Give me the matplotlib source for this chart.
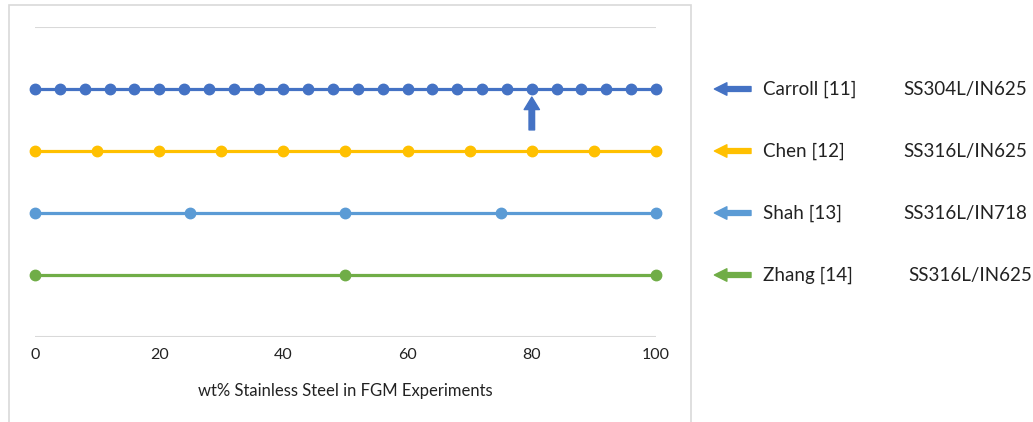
import matplotlib.pyplot as plt
from matplotlib.patches import Rectangle

# series data: wt% stainless steel compositions per study
carroll_x = list(range(0, 101, 4))
chen_x = [0, 10, 20, 30, 40, 50, 60, 70, 80, 90, 100]
shah_x = [0, 25, 50, 75, 100]
zhang_x = [0, 50, 100]

names = ['Carroll [11]', 'Chen [12]', 'Shah [13]', 'Zhang [14]']
alloys = ['SS304L/IN625', 'SS316L/IN625', 'SS316L/IN718', 'SS316L/IN625']
levels = [4, 3, 2, 1]
colors = ['#4472C4', '#FFC000', '#5B9BD5', '#70AD47']
xticks = [0, 20, 40, 60, 80, 100]
marked_x = 80

plt.rcParams['font.family'] = ['Lato', 'DejaVu Sans']

W, H = 1033, 422
fig = plt.figure(figsize=(W / 100, H / 100), dpi=100)
ax = fig.add_axes([35 / W, 1 - 337 / H, (656 - 35) / W, (337 - 27) / H])

# chart frame
fig.patches.append(Rectangle((9 / W, -0.05), (691 - 9) / W, 1 - 5 / H + 0.05,
                             transform=fig.transFigure, fill=False,
                             edgecolor='#d9d9d9', linewidth=1.2))

for xs, lvl, c in zip([carroll_x, chen_x, shah_x, zhang_x], levels, colors):
    ax.plot(xs, [lvl] * len(xs), color=c, linewidth=2.3,
            marker='o', markersize=7.5, zorder=3, clip_on=False)

# gridlines
for g in (0, 5):
    ax.axhline(g, color='#d9d9d9', linewidth=1.5, zorder=1)

ax.set_xlim(0, 100)
ax.set_ylim(0, 5)
ax.set_yticks([])
ax.set_xticks(xticks)
ax.tick_params(axis='x', length=0, pad=8, labelsize=11.5, labelcolor='#222222')
for s in ax.spines.values():
    s.set_visible(False)
ax.set_xlabel('wt% Stainless Steel in FGM Experiments', fontsize=12,
              labelpad=15, color='#222222')

# arrow pointing at the 80 wt% point of Carroll
ax.annotate('', xy=(marked_x, 4 - 0.13), xytext=(marked_x, 4 - 0.66),
            arrowprops=dict(arrowstyle='simple,head_width=1.1,head_length=0.9,tail_width=0.4',
                            color=colors[0], shrinkA=0, shrinkB=0))

# right-side labels
for name, alloy, lvl, c in zip(names, alloys, levels, colors):
    ax.annotate('', xy=(109.4, lvl), xytext=(115.3, lvl), annotation_clip=False,
                arrowprops=dict(arrowstyle='simple,head_width=0.9,head_length=0.9,tail_width=0.35',
                                color=c, shrinkA=0, shrinkB=0))
    ax.text(117.3, lvl, name, fontsize=13.5, va='center', ha='left',
            color='#222222', clip_on=False)
    ax.text(139.8 if lvl != 1 else 140.6, lvl, alloy, fontsize=13.5,
            va='center', ha='left', color='#222222', clip_on=False)

fig.savefig('out.png', dpi=100)
